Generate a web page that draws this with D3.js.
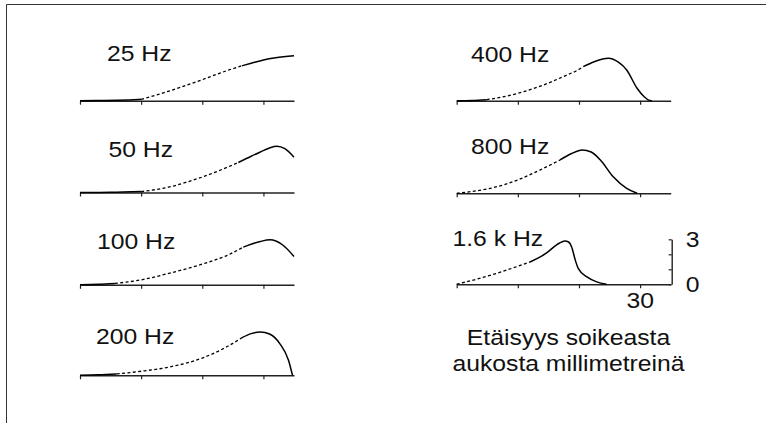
<!DOCTYPE html>
<html>
<head>
<meta charset="utf-8">
<script src="https://cdn.jsdelivr.net/npm/d3@7"></script>
<style>
  html, body { margin: 0; padding: 0; background: #fff; }
  svg { display: block; }
  text { font-family: "Liberation Sans", Arial, sans-serif; fill: #111; }
</style>
</head>
<body>
<svg id="chart" width="766" height="423"></svg>
<script>
// Envelope of the travelling wave along the basilar membrane for each tone.
const freqLabels = ["25 Hz", "50 Hz", "100 Hz", "200 Hz", "400 Hz", "800 Hz", "1.6 k Hz"];

// distance from the oval window (mm) and relative amplitude
const hz25Dist  = [0, 4, 8, 10, 12.5, 15, 17.5, 20, 22.5, 24, 26.5, 28, 30, 32, 35];
const hz25Amp   = [0, 0.01, 0.05, 0.09, 0.38, 0.7, 1.05, 1.4, 1.78, 2.0, 2.33, 2.5, 2.72, 2.87, 3.0];
const hz50Dist  = [0, 5, 10, 12.5, 15, 17.5, 20, 23, 25.9, 28, 29.5, 31, 32.2, 33.5, 35];
const hz50Amp   = [0, 0.01, 0.06, 0.2, 0.4, 0.7, 1.03, 1.5, 2.0, 2.42, 2.7, 2.97, 3.08, 2.92, 2.35];
const hz100Dist = [0, 3, 5.7, 10, 14.7, 20, 24, 26.7, 29.5, 31.1, 33.1, 35];
const hz100Amp  = [0, 0.03, 0.09, 0.33, 0.78, 1.38, 1.95, 2.51, 2.89, 3.0, 2.67, 1.89];
const hz200Dist = [0, 3, 6, 10, 14.7, 20, 24, 26.5, 28, 29.5, 31, 32.7, 34.1, 34.75];
const hz200Amp  = [0, 0.03, 0.09, 0.27, 0.56, 1.15, 1.9, 2.51, 2.78, 2.89, 2.75, 2.1, 1.0, 0];
const hz400Dist = [0, 2.5, 4.9, 7.5, 10, 12.5, 14.9, 17.5, 20, 20.7, 22.5, 24.8, 26.5, 27.8, 29.5, 30.7, 31.3, 31.9];
const hz400Amp  = [0, 0.02, 0.07, 0.25, 0.49, 0.8, 1.16, 1.62, 2.09, 2.27, 2.6, 2.83, 2.55, 2.05, 0.83, 0.25, 0.06, 0];
const hz800Dist = [0, 2.5, 5.5, 10, 13.6, 16.9, 18.8, 20.5, 22, 23.5, 25.6, 27.8, 29.5];
const hz800Amp  = [0, 0.12, 0.33, 0.89, 1.55, 2.22, 2.65, 2.89, 2.75, 2.22, 1.1, 0.33, 0];
const hz1600Dist = [0, 5.5, 10, 12, 14.7, 16.4, 17.7, 18.3, 18.8, 19.4, 19.9, 21.3, 22.9, 24.5];
const hz1600Amp  = [0, 0.6, 1.2, 1.49, 2.09, 2.65, 2.89, 2.82, 2.49, 1.6, 1.04, 0.49, 0.16, 0];

// stretch of each curve drawn dashed (mm)
const dashFrom = [10, 10, 5.7, 6, 4.9, 0, 0];
const dashTo   = [26.5, 25.9, 26.7, 26.5, 20.7, 16.9, 12];

const xTickValues = [0, 10, 20, 30];
const yTickValues = [0, 1, 2, 3];
const yTickLabels = ["0", "", "", "3"];
const axisTitle = ["Etäisyys soikeasta", "aukosta millimetreinä"];

const seriesDist = [hz25Dist, hz50Dist, hz100Dist, hz200Dist, hz400Dist, hz800Dist, hz1600Dist];
const seriesAmp  = [hz25Amp, hz50Amp, hz100Amp, hz200Amp, hz400Amp, hz800Amp, hz1600Amp];

// panel placement: left edge of axis, axis baseline, label anchor
const panels = [
  { x0: 80,    base: 100.7, lx: 107, ly: 61 },
  { x0: 80,    base: 192.5, lx: 108.5, ly: 157 },
  { x0: 80,    base: 284.8, lx: 97,  ly: 248.5 },
  { x0: 80,    base: 375.3, lx: 96,  ly: 344 },
  { x0: 456.7, base: 100.7, lx: 471, ly: 61.5 },
  { x0: 456.7, base: 193.3, lx: 471, ly: 153.5 },
  { x0: 456.7, base: 284.3, lx: 452.5, ly: 245.5 }
];

const FONT = 21.5, STRETCH = 1.15;
const svg = d3.select("#chart");

// partial frame
svg.append("path")
  .attr("d", "M6.5,423 V4.5 H766")
  .attr("fill", "none").attr("stroke", "#333").attr("stroke-width", 1);

const yScaleFor = base => d3.scaleLinear().domain([0, 3]).range([base, base - 45]);

function stretchedText(g, x, y, str, anchor) {
  g.append("text")
    .attr("transform", `translate(${x},${y}) scale(${STRETCH},1)`)
    .attr("text-anchor", anchor || "start")
    .attr("font-size", FONT)
    .text(str);
}

panels.forEach((p, i) => {
  const x = d3.scaleLinear().domain([0, 35]).range([p.x0, p.x0 + 214]);
  const y = yScaleFor(p.base);
  const g = svg.append("g");

  // distance axis
  const ax = g.append("g")
    .attr("transform", `translate(0,${p.base})`)
    .call(d3.axisBottom(x).tickValues(xTickValues).tickSize(4).tickSizeOuter(0).tickFormat(""));
  ax.select(".domain").attr("stroke", "#222").attr("stroke-width", 1.4);
  ax.selectAll(".tick line").attr("stroke", "#222").attr("stroke-width", 1.2);

  const pts = seriesDist[i].map((d, k) => [d, seriesAmp[i][k]]);
  const line = d3.line().x(d => x(d[0])).y(d => y(d[1])).curve(d3.curveMonotoneX);
  const lo = dashFrom[i], hi = dashTo[i];
  const segs = [
    { data: pts.filter(d => d[0] <= lo), dash: null },
    { data: pts.filter(d => d[0] >= lo && d[0] <= hi), dash: "3,2.4" },
    { data: pts.filter(d => d[0] >= hi), dash: null }
  ];
  segs.forEach(s => {
    if (s.data.length < 2) return;
    g.append("path")
      .attr("d", line(s.data))
      .attr("fill", "none")
      .attr("stroke", "#000")
      .attr("stroke-width", s.dash ? 1.3 : 1.5)
      .attr("stroke-dasharray", s.dash);
  });

  stretchedText(g, p.lx, p.ly, freqLabels[i]);

  // amplitude scale and distance label on the last panel
  if (i === panels.length - 1) {
    const yAx = g.append("g")
      .attr("transform", `translate(${p.x0 + 215},0)`)
      .call(d3.axisLeft(y).tickValues(yTickValues).tickSize(3).tickSizeOuter(0).tickFormat(""));
    yAx.select(".domain").attr("stroke", "#222").attr("stroke-width", 1.4);
    yAx.selectAll(".tick line").attr("stroke", "#222").attr("stroke-width", 1.2);
    yTickValues.forEach((v, k) => {
      if (yTickLabels[k]) stretchedText(g, p.x0 + 229, y(v) + 7.7, yTickLabels[k]);
    });
    stretchedText(g, x(30), p.base + 24, "30", "middle");
    stretchedText(g, 568.5, 345, axisTitle[0], "middle");
    stretchedText(g, 568.5, 370.7, axisTitle[1], "middle");
  }
});
</script>
</body>
</html>
